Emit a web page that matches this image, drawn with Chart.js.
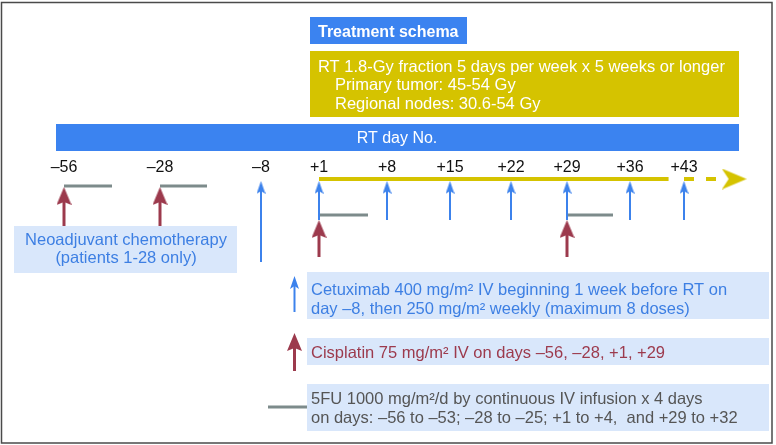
<!DOCTYPE html>
<html>
<head>
<meta charset="utf-8">
<script src="https://cdn.jsdelivr.net/npm/chart.js"></script>
<style>
  html, body { margin: 0; padding: 0; background: #fff; }
  #wrap { position: relative; width: 776px; height: 445px; }
</style>
</head>
<body>
<div id="wrap"><canvas id="schema"></canvas></div>
<script>
const tickDays = [-56, -28, -8, 1, 8, 15, 22, 29, 36, 43];
const cetuximabDays = [-8, 1, 8, 15, 22, 29, 36, 43];
const cisplatinDays = [-56, -28, 1, 29];
const fuStartDays = [-56, -28, 1, 29];
const fuEndDays = [-53, -25, 4, 32];
const rtSolidDays = [1, 41];      // 5 settimane
const rtLongerDays = [43, 48];    // "or longer"
const rtArrowDay = 49.5;

// testi
const titleText = 'Treatment schema';
const rtLines = ['RT 1.8-Gy fraction 5 days per week x 5 weeks or longer', 'Primary tumor: 45-54 Gy', 'Regional nodes: 30.6-54 Gy'];
const axisTitle = 'RT day No.';
const neoLines = ['Neoadjuvant chemotherapy', '(patients 1-28 only)'];
const cetuximabLines = ['Cetuximab 400 mg/m\u00B2 IV beginning 1 week before RT on', 'day \u20138, then 250 mg/m\u00B2 weekly (maximum 8 doses)'];
const cisplatinLines = ['Cisplatin 75 mg/m\u00B2 IV on days \u201356, \u201328, +1, +29'];
const fuLines = ['5FU 1000 mg/m\u00B2/d by continuous IV infusion x 4 days', 'on days: \u201356 to \u201353; \u201328 to \u201325; +1 to +4,  and +29 to +32'];

// colori
const BLUE = '#3b83f0';
const ARROW_BLUE = '#3c82ec';
const YELLOW = '#d5c300';
const LIGHT = '#d9e7fb';
const RED = '#9c3a4d';
const GREY = '#7d8b8b';
const FONT = '"Liberation Sans", Arial, sans-serif';
const TXT = '16.5px ' + FONT;

// asse schematico (non in scala): giorno -> posizione orizzontale
const W = 776, H = 445;
const axisStops = [[-56, 64], [-53, 112], [-28, 160], [-25, 207], [-8, 261], [1, 319], [4, 368],
  [8, 387], [15, 450], [22, 511], [29, 567], [32, 613], [36, 630], [43, 684]];
function stopPos(day) {
  let i = 1;
  while (i < axisStops.length - 1 && day > axisStops[i][0]) i++;
  const [d0, p0] = axisStops[i - 1], [d1, p1] = axisStops[i];
  return p0 + (day - d0) * (p1 - p0) / (d1 - d0);
}

class SchemaScale extends Chart.LinearScale {
  getPixelForValue(value) {
    if (value === null || value === undefined || isNaN(value)) return NaN;
    return this.getPixelForDecimal(stopPos(value) / W);
  }
}
SchemaScale.id = 'schema';
SchemaScale.defaults = {};
Chart.register(SchemaScale);

// righe verticali (layout)
const rtLineY = 179;
const cetTipY = 181, cetBottomY = 220, cetLoadBottomY = 262;
const cisNeo = { tip: 187, bottom: 226 }, cisRt = { tip: 220, bottom: 257 };
const fuNeoY = 186, fuRtY = 215;

function arrowHead(w, h, notch, color) {
  const c = document.createElement('canvas');
  c.width = w; c.height = h;
  const g = c.getContext('2d');
  g.fillStyle = color;
  g.beginPath();
  g.moveTo(w / 2, 0); g.lineTo(w, h); g.lineTo(w / 2, h - notch); g.lineTo(0, h);
  g.closePath(); g.fill();
  return c;
}
function chevron(w, h, notch, color) {
  const c = document.createElement('canvas');
  c.width = w; c.height = h;
  const g = c.getContext('2d');
  g.fillStyle = color;
  g.beginPath();
  g.moveTo(0, 0); g.lineTo(w, h / 2); g.lineTo(0, h); g.lineTo(notch, h / 2);
  g.closePath(); g.fill();
  return c;
}
const blueHead = arrowHead(9, 13, 3, ARROW_BLUE);
const redHead = arrowHead(15, 18, 3, RED);
const rtHead = chevron(25, 21, 7, YELLOW);

function arrowSet(day, tipY, bottomY, head, color, width, order) {
  return {
    data: [{ x: day, y: bottomY }, { x: day, y: tipY + head.height / 2 }],
    borderColor: color,
    borderWidth: width,
    pointStyle: head,
    pointRadius: c => c.dataIndex === 1 ? 5 : 0,
    order
  };
}

const datasets = [];
datasets.push({
  data: [rtSolidDays[0], rtSolidDays[1], rtLongerDays[0], rtLongerDays[1]].map(d => ({ x: d, y: rtLineY })),
  borderColor: YELLOW,
  borderWidth: 4,
  pointRadius: 0,
  segment: {
    borderColor: c => c.p0DataIndex === 1 ? 'rgba(0,0,0,0)' : YELLOW,
    borderDash: c => c.p0DataIndex === 2 ? [10, 12] : []
  },
  order: 5
});
datasets.push({
  data: [{ x: rtArrowDay, y: rtLineY }],
  showLine: false,
  pointStyle: rtHead,
  pointRadius: 5,
  order: 5
});
fuStartDays.forEach((d, i) => {
  const y = d < 0 ? fuNeoY : fuRtY;
  datasets.push({
    data: [{ x: d, y }, { x: fuEndDays[i], y }],
    borderColor: GREY, borderWidth: 3, pointRadius: 0, order: 4
  });
});
cetuximabDays.forEach((d, i) => {
  datasets.push(arrowSet(d, cetTipY, i === 0 ? cetLoadBottomY : cetBottomY, blueHead, ARROW_BLUE, 2, 3));
});
cisplatinDays.forEach(d => {
  const r = d < 0 ? cisNeo : cisRt;
  datasets.push(arrowSet(d, r.tip, r.bottom, redHead, RED, 3, 1));
});

function box(ctx, x, y, w, h, color) {
  ctx.fillStyle = color;
  ctx.fillRect(x, y, w, h);
}
function lines(ctx, arr, x, y, step, color, font, align) {
  ctx.fillStyle = color;
  ctx.font = font;
  ctx.textAlign = align || 'left';
  ctx.textBaseline = 'alphabetic';
  arr.forEach((t, i) => ctx.fillText(t, x, y + i * step));
}

const schemaDecor = {
  id: 'schemaDecor',
  beforeDatasetsDraw(chart) {
    const ctx = chart.ctx;
    ctx.save();
    ctx.strokeStyle = '#4a4a4a';
    ctx.lineWidth = 1.5;
    ctx.strokeRect(1.5, 2.5, 770.5, 440.5);
    box(ctx, 310, 17, 157, 27, BLUE);
    box(ctx, 310, 51, 429, 66, YELLOW);
    box(ctx, 56, 124, 683, 27, BLUE);
    box(ctx, 14, 226, 223, 47, LIGHT);
    box(ctx, 307, 272, 462, 47, LIGHT);
    box(ctx, 307, 338, 462, 27, LIGHT);
    box(ctx, 307, 384, 462, 47, LIGHT);
    ctx.restore();
  },
  afterDatasetsDraw(chart) {
    const ctx = chart.ctx;
    ctx.save();
    lines(ctx, [titleText], 318, 37, 0, '#fff', 'bold 16px ' + FONT);
    lines(ctx, rtLines.slice(0, 1), 318, 72, 0, '#fff', TXT);
    lines(ctx, rtLines.slice(1), 335, 90, 19, '#fff', TXT);
    lines(ctx, [axisTitle], 397, 143, 0, '#fff', '16px ' + FONT, 'center');
    lines(ctx, neoLines, 126, 245, 18, '#3d7fe3', TXT, 'center');
    lines(ctx, cetuximabLines, 311, 295, 18.5, '#3d7fe3', TXT);
    lines(ctx, cisplatinLines, 311, 358, 0, RED, TXT);
    lines(ctx, fuLines, 311, 404, 19, '#555', TXT);

    // simboli della legenda
    ctx.lineCap = 'butt';
    ctx.strokeStyle = ARROW_BLUE; ctx.lineWidth = 2;
    ctx.beginPath(); ctx.moveTo(294.5, 312); ctx.lineTo(294.5, 283); ctx.stroke();
    ctx.drawImage(blueHead, 294.5 - blueHead.width / 2, 276);
    ctx.strokeStyle = RED; ctx.lineWidth = 3;
    ctx.beginPath(); ctx.moveTo(294.5, 371); ctx.lineTo(294.5, 342); ctx.stroke();
    ctx.drawImage(redHead, 294.5 - redHead.width / 2, 333);
    ctx.strokeStyle = GREY; ctx.lineWidth = 3;
    ctx.beginPath(); ctx.moveTo(268, 407); ctx.lineTo(307, 407); ctx.stroke();
    ctx.restore();
  }
};

new Chart(document.getElementById('schema'), {
  type: 'line',
  data: { datasets },
  options: {
    responsive: true,
    maintainAspectRatio: false,
    animation: false,
    events: [],
    layout: { padding: 0, autoPadding: false },
    elements: { line: { tension: 0, borderCapStyle: 'butt' } },
    plugins: { legend: { display: false }, tooltip: { enabled: false } },
    scales: {
      x: {
        type: 'schema',
        axis: 'x',
        position: { y: 158 },
        min: -60,
        max: 56,
        afterBuildTicks: scale => { scale.ticks = tickDays.map(v => ({ value: v })); },
        grid: { display: false, drawTicks: false },
        border: { display: false },
        ticks: {
          autoSkip: false,
          maxRotation: 0,
          padding: 0,
          color: '#111',
          font: { family: FONT, size: 16 },
          callback: v => v > 0 ? '+' + v : '\u2013' + Math.abs(v)
        }
      },
      y: { type: 'linear', display: false, reverse: true, min: 0, max: H }
    }
  },
  plugins: [schemaDecor]
});
</script>
</body>
</html>
